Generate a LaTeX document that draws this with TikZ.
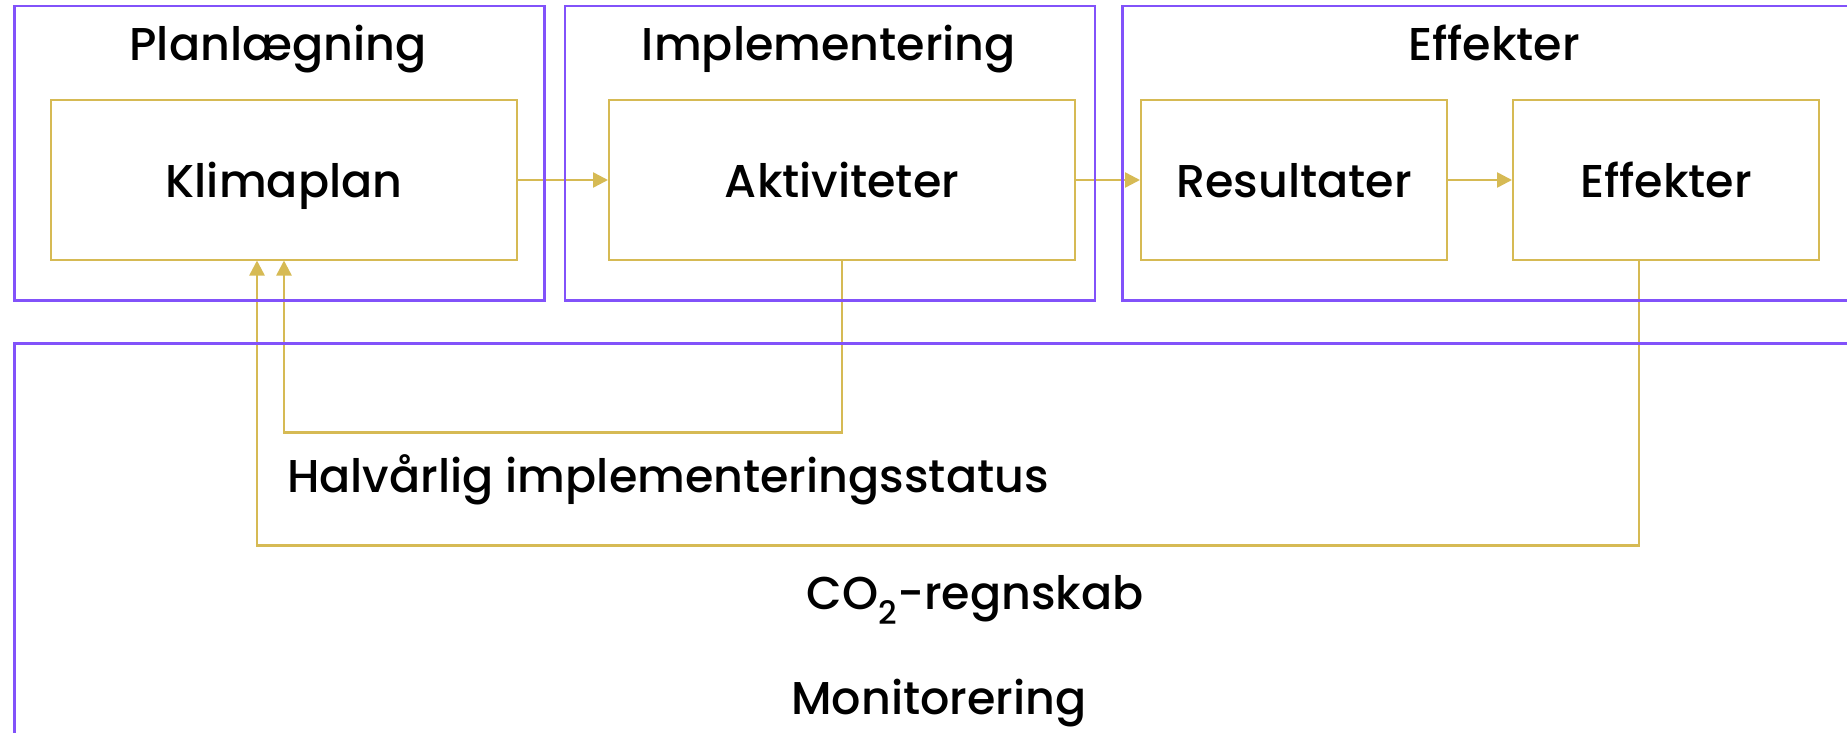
\documentclass[tikz,border=0pt]{standalone}
\usepackage{fontspec}
\setmainfont{Poppins}[UprightFont=* Medium]
\usetikzlibrary{arrows.meta}
\usetikzlibrary{positioning}
\definecolor{lilla}{RGB}{130,82,250}
\definecolor{guld}{RGB}{214,186,84}
\tikzset{
    fase/.style={
           rectangle,
           draw=lilla, line width=2.5pt,
           anchor=north west,
           inner sep=0pt,
           },
    boks/.style={
           rectangle,
           draw=guld, line width=2pt,
           minimum height=159pt,
           text height=34pt, text depth=0pt,
           inner sep=0pt,
           text centered,
           font=\fontsize{46}{50}\selectfont,
           },
    titel/.style={
           anchor=base,
           inner sep=0pt,
           font=\fontsize{46}{50}\selectfont,
           },
}

\begin{document}
\begin{tikzpicture}[x=1pt,y=-1pt,->,>={Triangle[length=15pt,width=15pt]}]

    \useasboundingbox (0,0) rectangle (1847,733);
    \clip (0,0) rectangle (1847,733);

    % bokse
    \node[boks,minimum width=466pt] (K) at (284,180) {Klimaplan};
    \node[boks,minimum width=466pt,right=90pt of K] (A) {Aktiviteter};
    \node[boks,minimum width=306pt,right=64pt of A] (R) {Resultater};
    \node[boks,minimum width=306pt,right=64pt of R] (Ef) {Effekter};

    \path[draw=guld,line width=2.5pt,fill=guld] (K) -- (A);
    \path[draw=guld,line width=2.5pt,fill=guld] (A) -- (R);
    \path[draw=guld,line width=2.5pt,fill=guld] (R) -- (Ef);

    % tilbagemelding
    \draw[guld,line width=2.5pt] (A.south) -- ++(0,172) -| (K.south);
    \draw[guld,line width=2.5pt] ([xshift=-27pt]Ef.south) -- ++(0,285) -| ([xshift=-27pt]K.south);

    % faser
    \node[fase,minimum width=530pt,minimum height=294pt] (P) at (13,5) {};
    \node[fase,minimum width=530pt,minimum height=294pt,right=18pt of P.north east,anchor=north west] (I) {};
    \node[fase,minimum width=748pt,minimum height=294pt,right=25pt of I.north east,anchor=north west] (E) {};
    \node[fase,minimum width=1855pt,minimum height=500pt] (M) at (13,342) {};

    \node[titel] at (278,61) {Planlægning};
    \node[titel] at (829,61) {Implementering};
    \node[titel] at (1494,61) {Effekter};

    \node[titel,anchor=base west] (H) at (287,492) {Halvårlig implementeringsstatus};
    \node[titel] (C) at (975,609) {CO\textsubscript{2}-regnskab};
    \node[titel] (Mo) at (939,714) {Monitorering};

\end{tikzpicture}
\end{document}
